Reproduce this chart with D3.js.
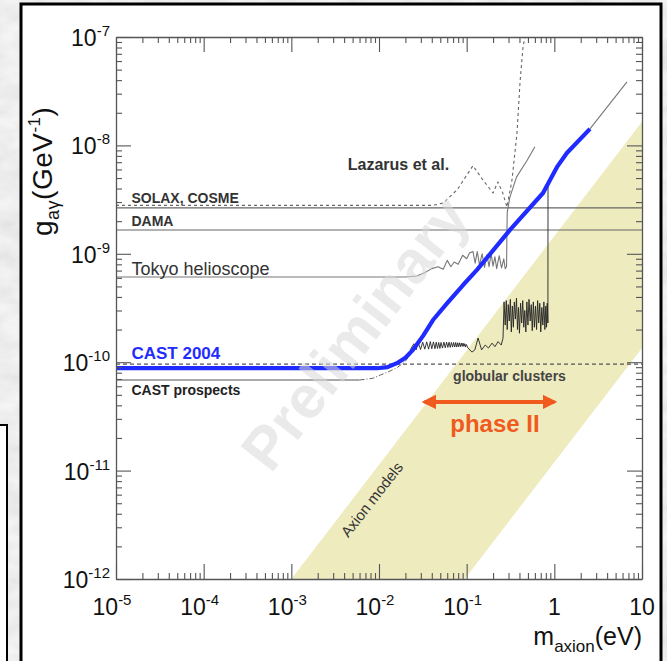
<!DOCTYPE html>
<html>
<head>
<meta charset="utf-8">
<script src="https://cdn.jsdelivr.net/npm/d3@7"></script>
<style>
  body { margin: 0; background: #d8d8d8; }
  svg { display: block; font-family: "Liberation Sans", Arial, sans-serif; }
</style>
</head>
<body>
<svg id="chart" width="667" height="661"></svg>
<script>
/* Data */

const xDecades = [1e-5, 1e-4, 1e-3, 1e-2, 1e-1, 1, 10];
const xTickBase = ['10', '10', '10', '10', '10', '1', '10'];
const xTickSup = ['-5', '-4', '-3', '-2', '-1', '', ''];
const yDecades = [1e-12, 1e-11, 1e-10, 1e-9, 1e-8, 1e-7];
const yTickSup = ['-12', '-11', '-10', '-9', '-8', '-7'];

const solax = 2.65e-9;
const dama = 1.66e-9;
const globular = 0.96e-10;

const tokyo = [
  [1e-5, 6.1e-10], [0.02, 6.1e-10], [0.027, 6.25e-10], [0.033, 6.7e-10], [0.04, 7.3e-10],
  [0.047, 7.6e-10], [0.054, 7.2e-10], [0.06, 8.7e-10], [0.066, 7.6e-10], [0.072, 8.4e-10],
  [0.08, 8.0e-10], [0.09, 9.7e-10], [0.1, 9.0e-10], [0.108, 1.02e-9], [0.118, 1.05e-9],
  [0.125, 8.2e-10], [0.132, 1.05e-9], [0.14, 7.9e-10], [0.15, 1.0e-9], [0.16, 7.5e-10],
  [0.17, 9.8e-10], [0.18, 7.6e-10], [0.19, 1.0e-9], [0.2, 7.7e-10], [0.21, 9.4e-10],
  [0.22, 7.3e-10], [0.235, 9.6e-10], [0.25, 7.4e-10], [0.265, 9.0e-10], [0.275, 7.3e-10],
  [0.285, 7.6e-10], [0.29, 2.4e-9], [0.31, 3.3e-9], [0.37, 5.1e-9], [0.49, 7.3e-9], [0.6, 9.7e-9]
];

const lazarus = [
  [1e-5, 2.8e-9], [0.041, 2.8e-9], [0.054, 2.94e-9], [0.078, 3.9e-9], [0.118, 6.5e-9],
  [0.153, 4.8e-9], [0.2, 3.64e-9], [0.227, 4.6e-9], [0.258, 3.64e-9], [0.288, 2.7e-9],
  [0.329, 4.8e-9], [0.375, 1.3e-8], [0.406, 3.8e-8], [0.439, 8.1e-8], [0.463, 1e-7]
];

const cast2004 = [
  [1e-5, 0.88e-10], [0.0095, 0.88e-10], [0.0125, 0.9e-10], [0.016, 0.98e-10], [0.02, 1.1e-10],
  [0.0244, 1.3e-10], [0.0318, 1.75e-10], [0.0413, 2.45e-10], [0.06, 3.5e-10], [0.091, 5.15e-10],
  [0.131, 7.1e-10], [0.312, 1.66e-9], [0.743, 3.64e-9], [1.07, 6.3e-9], [1.39, 8.5e-9], [2.55, 1.42e-8]
];
const castExtension = [[2.55, 1.42e-8], [6.74, 3.85e-8]];

const prospectsFlat = [[1e-5, 6.85e-11], [0.006, 6.85e-11]];
const prospectsRise = [
  [0.006, 6.85e-11], [0.0085, 7.1e-11], [0.0103, 7.6e-11], [0.013, 8.2e-11], [0.016, 8.9e-11],
  [0.0195, 1.0e-10], [0.0227, 1.16e-10], [0.028, 1.5e-10]
];

const phase2 = [
  [0.0227, 1.30e-10], [0.025, 1.48e-10], [0.0265, 1.30e-10], [0.028, 1.52e-10], [0.0298, 1.31e-10],
  [0.0315, 1.53e-10], [0.0333, 1.32e-10], [0.035, 1.54e-10], [0.0368, 1.32e-10], [0.0385, 1.55e-10],
  [0.040, 1.33e-10], [0.0418, 1.54e-10], [0.0435, 1.33e-10], [0.045, 1.53e-10], [0.0465, 1.34e-10],
  [0.048, 1.52e-10], [0.0495, 1.34e-10], [0.051, 1.52e-10], [0.053, 1.35e-10], [0.055, 1.53e-10],
  [0.057, 1.36e-10], [0.059, 1.53e-10], [0.061, 1.37e-10], [0.063, 1.53e-10], [0.065, 1.37e-10],
  [0.067, 1.52e-10], [0.069, 1.38e-10], [0.071, 1.52e-10], [0.073, 1.38e-10], [0.075, 1.52e-10],
  [0.077, 1.38e-10], [0.079, 1.51e-10], [0.081, 1.39e-10], [0.083, 1.51e-10], [0.085, 1.39e-10],
  [0.087, 1.5e-10], [0.089, 1.4e-10], [0.091, 1.5e-10], [0.093, 1.4e-10], [0.095, 1.48e-10],
  [0.097, 1.38e-10], [0.099, 1.46e-10], [0.1035, 1.35e-10], [0.115, 1.24e-10], [0.124, 1.3e-10],
  [0.135, 1.67e-10], [0.148, 1.3e-10], [0.163, 1.44e-10], [0.177, 1.35e-10], [0.195, 1.5e-10],
  [0.21, 1.39e-10], [0.228, 1.55e-10], [0.248, 1.44e-10], [0.26, 1.67e-10], [0.267, 3.6e-10],
  [0.275, 2.2e-10], [0.283, 3.7e-10], [0.29, 2.0e-10], [0.298, 3.4e-10], [0.306, 2.4e-10],
  [0.315, 3.8e-10], [0.323, 1.9e-10], [0.332, 3.3e-10], [0.341, 2.1e-10], [0.35, 3.6e-10],
  [0.36, 2.5e-10], [0.37, 3.9e-10], [0.38, 2.0e-10], [0.39, 3.2e-10], [0.4, 1.85e-10],
  [0.412, 3.5e-10], [0.424, 2.3e-10], [0.436, 3.7e-10], [0.448, 2.1e-10], [0.46, 3.0e-10],
  [0.473, 1.9e-10], [0.486, 3.6e-10], [0.5, 2.2e-10], [0.514, 3.8e-10], [0.53, 2.4e-10],
  [0.545, 3.4e-10], [0.56, 1.95e-10], [0.576, 3.6e-10], [0.592, 2.1e-10], [0.61, 3.3e-10],
  [0.627, 2.0e-10], [0.645, 3.7e-10], [0.663, 2.3e-10], [0.682, 3.5e-10], [0.7, 1.9e-10],
  [0.72, 3.2e-10], [0.74, 2.2e-10], [0.76, 3.6e-10], [0.78, 2.0e-10], [0.8, 3.3e-10],
  [0.815, 2.1e-10], [0.83, 3.5e-10], [0.845, 2.3e-10], [0.847, 4.3e-9]
];

// axion model band corners (upper edge, then lower edge back)
const axionBand = [[1e-3, 1e-12], [10, 1.65e-8], [10, 1.35e-10], [0.095, 1e-12]];
const phase2Range = [0.033, 1.0];

/* Layout */

const svg = d3.select('#chart');
const W = 667, H = 661;
const x = d3.scaleLog().domain([1e-5, 10]).range([116, 642]);
const y = d3.scaleLog().domain([1e-12, 1e-7]).range([579, 37]);
const [x0, x1] = x.range();
const [y1, y0] = y.range();

const defs = svg.append('defs');
const marble = defs.append('filter').attr('id', 'marble').attr('x', 0).attr('y', 0).attr('width', 1).attr('height', 1);
marble.append('feTurbulence').attr('type', 'fractalNoise').attr('baseFrequency', '0.035 0.06').attr('numOctaves', 3).attr('seed', 7);
marble.append('feColorMatrix').attr('type', 'matrix')
  .attr('values', '0.22 0 0 0 0.74  0.22 0 0 0 0.74  0.22 0 0 0 0.74  0 0 0 0 1');
defs.append('clipPath').attr('id', 'plotclip')
  .append('rect').attr('x', x0).attr('y', y0).attr('width', x1 - x0).attr('height', y1 - y0);
const mk = defs.append('marker').attr('id', 'head').attr('viewBox', '0 0 10 10')
  .attr('refX', 8).attr('refY', 5).attr('markerWidth', 3.6).attr('markerHeight', 3.6)
  .attr('markerUnits', 'strokeWidth').attr('orient', 'auto-start-reverse');
mk.append('path').attr('d', 'M0,0 L10,5 L0,10 Z').attr('fill', '#f05a1e');

/* Background / panels */

svg.append('rect').attr('width', W).attr('height', H).attr('filter', 'url(#marble)');
svg.append('rect').attr('x', -10).attr('y', 425).attr('width', 17).attr('height', 260)
  .attr('fill', '#fff').attr('stroke', '#000').attr('stroke-width', 2);
svg.append('rect').attr('x', 21).attr('y', 4).attr('width', 640).attr('height', 680)
  .attr('fill', '#fff').attr('stroke', '#000').attr('stroke-width', 3);

const plot = svg.append('g').attr('clip-path', 'url(#plotclip)');

/* Axion band + watermark */

plot.append('path')
  .attr('d', d3.line().x(d => x(d[0])).y(d => y(d[1]))(axionBand) + 'Z')
  .attr('fill', '#eeebbf');

svg.append('text')
  .attr('transform', `translate(${x(0.0053)},${y(1.86e-10)}) rotate(-52)`)
  .attr('text-anchor', 'middle').attr('dy', '0.35em')
  .attr('font-size', 60).attr('font-weight', 'bold')
  .attr('fill', '#d9d9d9').attr('opacity', 0.55)
  .text('Preliminary');

/* Lines */

const line = d3.line().x(d => x(d[0])).y(d => y(d[1]));

const hline = (v, stroke, dash) => plot.append('line')
  .attr('x1', x0).attr('x2', x1).attr('y1', y(v)).attr('y2', y(v))
  .attr('stroke', stroke).attr('stroke-width', 1.1).attr('stroke-dasharray', dash || null);

hline(solax, '#666');
hline(dama, '#666');
hline(globular, '#555', '4,3');

const addPath = (data, stroke, width, dash) => plot.append('path')
  .datum(data).attr('d', line).attr('fill', 'none')
  .attr('stroke', stroke).attr('stroke-width', width)
  .attr('stroke-dasharray', dash || null).attr('stroke-linejoin', 'round');

addPath(lazarus, '#666', 1.1, '3,3');
addPath(tokyo, '#777', 1.1);
addPath(prospectsFlat, '#555', 1.1);
addPath(prospectsRise, '#666', 1, '5,2,1,2');
addPath(phase2, '#222', 0.9);
addPath(castExtension, '#777', 1.1);
addPath(cast2004, '#1f2bff', 4.2);

/* Axes */

const minors = [];
xDecades.slice(0, -1).forEach(d => d3.range(2, 10).forEach(k => minors.push(d * k)));
const yMinors = [];
yDecades.slice(0, -1).forEach(d => d3.range(2, 10).forEach(k => yMinors.push(d * k)));

const axisStyle = g => {
  g.selectAll('.domain').attr('stroke', '#555').attr('stroke-width', 1.3);
  g.selectAll('.tick line').attr('stroke', '#555').attr('stroke-width', 1.1);
  g.selectAll('.tick text').remove();
};

const drawAxis = (axisFn, scale, vals, size, transform) => svg.append('g')
  .attr('transform', transform)
  .call(axisFn(scale).tickValues(vals).tickSizeInner(size).tickSizeOuter(0).tickFormat(() => ''))
  .call(axisStyle);

[[d3.axisBottom, x, `translate(0,${y1})`], [d3.axisTop, x, `translate(0,${y0})`],
 [d3.axisLeft, y, `translate(${x0},0)`], [d3.axisRight, y, `translate(${x1},0)`]]
  .forEach(([fn, sc, tr]) => {
    const isX = sc === x;
    drawAxis(fn, sc, isX ? xDecades : yDecades, -15, tr);
    drawAxis(fn, sc, isX ? minors : yMinors, -6, tr).select('.domain').remove();
  });

/* Tick labels */

const xl = svg.append('g').attr('font-size', 23).attr('fill', '#111');
xDecades.forEach((d, i) => {
  const t = xl.append('text').attr('x', x(d) + (xTickSup[i] ? -4 : 0)).attr('y', 615).attr('text-anchor', 'middle');
  t.append('tspan').text(xTickBase[i]);
  if (xTickSup[i]) t.append('tspan').attr('font-size', 15).attr('dy', -10).text(xTickSup[i]);
});

const yl = svg.append('g').attr('font-size', 23).attr('fill', '#111');
yDecades.forEach((d, i) => {
  const t = yl.append('text').attr('x', 110).attr('y', y(d) + 9).attr('text-anchor', 'end');
  t.append('tspan').text('10');
  t.append('tspan').attr('font-size', 15).attr('dy', -10).text(yTickSup[i]);
});

/* Axis titles */

const xt = svg.append('text').attr('x', 642).attr('y', 645).attr('text-anchor', 'end')
  .attr('font-size', 25).attr('fill', '#111');
xt.append('tspan').text('m');
xt.append('tspan').attr('font-size', 17).attr('dy', 7).text('axion');
xt.append('tspan').attr('dy', -7).text('(eV)');

const yt = svg.append('text').attr('transform', 'translate(52,236) rotate(-90)')
  .attr('font-size', 28).attr('fill', '#111').attr('letter-spacing', 0.5);
yt.append('tspan').text('g');
yt.append('tspan').attr('font-size', 18).attr('dy', 7).text('aγ');
yt.append('tspan').attr('dy', -7).text('(GeV');
yt.append('tspan').attr('font-size', 17).attr('dy', -12).text('-1');
yt.append('tspan').attr('dy', 12).text(')');

/* Annotations */

const note = (m, g, dy, txt, size, weight, fill, anchor) => svg.append('text')
  .attr('x', x(m)).attr('y', y(g) + dy)
  .attr('font-size', size).attr('font-weight', weight).attr('fill', fill)
  .attr('text-anchor', anchor || 'start').text(txt);

note(1.5e-5, solax, -5, 'SOLAX, COSME', 14, 'bold', '#333');
note(1.5e-5, dama, -4, 'DAMA', 14, 'bold', '#333');
note(1.5e-5, 6.1e-10, -2, 'Tokyo helioscope', 18, 'normal', '#333');
note(0.0044, 5.9e-9, 0, 'Lazarus et al.', 16, 'bold', '#333');
note(1.5e-5, 0.88e-10, -9, 'CAST 2004', 17, 'bold', '#1f2bff');
note(1.5e-5, 6.85e-11, 15, 'CAST prospects', 14, 'bold', '#222');
note(0.07, globular, 17, 'globular clusters', 14, 'bold', '#444');
note(0.21, 2.27e-11, 0, 'phase II', 24, 'bold', '#f05a1e', 'middle');

svg.append('line')
  .attr('x1', x(phase2Range[0])).attr('x2', x(phase2Range[1]))
  .attr('y1', y(4.3e-11)).attr('y2', y(4.3e-11))
  .attr('stroke', '#f05a1e').attr('stroke-width', 4)
  .attr('marker-start', 'url(#head)').attr('marker-end', 'url(#head)');

svg.append('text')
  .attr('transform', `translate(${x(0.0083)},${y(5.4e-12)}) rotate(-52)`)
  .attr('text-anchor', 'middle').attr('dy', '0.35em')
  .attr('font-size', 15).attr('fill', '#333')
  .text('Axion models');
</script>
</body>
</html>
